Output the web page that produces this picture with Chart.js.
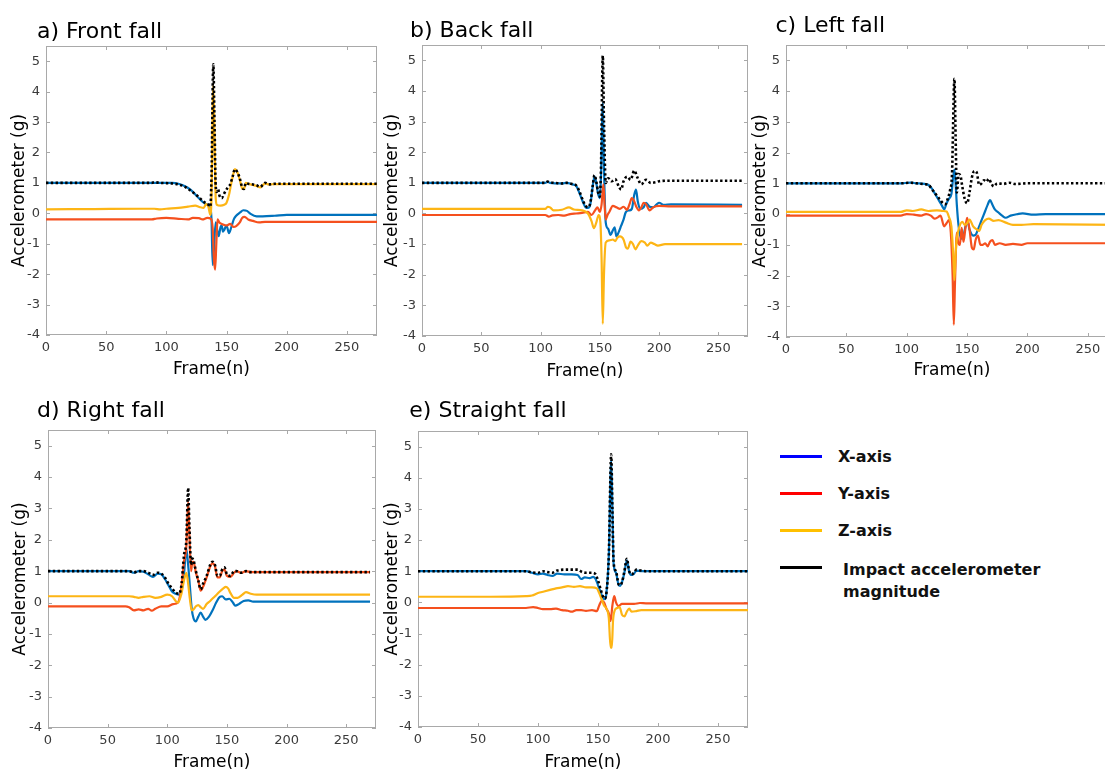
<!DOCTYPE html>
<html><head><meta charset="utf-8">
<script src="https://cdn.jsdelivr.net/npm/chart.js@4.4.1/dist/chart.umd.min.js"></script>
<style>
html,body{margin:0;padding:0;background:#fff;width:1105px;height:774px;overflow:hidden;position:relative;}
canvas{position:absolute;}
.ll{position:absolute;left:780px;width:42px;height:3px;}
.lt{position:absolute;font-family:"DejaVu Sans",sans-serif;font-weight:bold;font-size:16px;line-height:22px;color:#111;white-space:nowrap;}
</style></head><body>
<canvas id="ca" width="380" height="385" style="left:0px;top:0px"></canvas>
<canvas id="cb" width="375" height="385" style="left:375px;top:0px"></canvas>
<canvas id="cc" width="380" height="385" style="left:740px;top:0px"></canvas>
<canvas id="cd" width="380" height="389" style="left:0px;top:385px"></canvas>
<canvas id="ce" width="375" height="389" style="left:375px;top:385px"></canvas>

<div class="ll" style="top:455px;background:#0000FF"></div>
<div class="lt" style="left:838px;top:446px">X-axis</div>
<div class="ll" style="top:492px;background:#FF0000"></div>
<div class="lt" style="left:838px;top:483px">Y-axis</div>
<div class="ll" style="top:529px;background:#FFC000"></div>
<div class="lt" style="left:838px;top:520px">Z-axis</div>
<div class="ll" style="top:566px;background:#000000"></div>
<div class="lt" style="left:843px;top:559px">Impact accelerometer<br>magnitude</div>

<script>
// ---------- data: [frame, g] pairs ----------
const xTicks = [0, 50, 100, 150, 200, 250];
const yTicks = [-4, -3, -2, -1, 0, 1, 2, 3, 4, 5];

// a) Front fall
const frontMag = [[0,1.0],[60,1.0],[88,1.0],[90,1.02],[95,1.0],[105,0.98],[110,0.95],[115,0.88],[120,0.75],[125,0.6],[130,0.42],[133,0.33],[135,0.28],[136.5,0.22],[137.5,1.2],[139,4.9],[140,3.0],[141,0.9],[142,0.7],[143,0.8],[144,0.6],[146,0.5],[148,0.65],[151,0.85],[153,0.95],[155,1.2],[157,1.45],[159,1.35],[161,1.15],[163,0.85],[164.5,0.8],[166,1.0],[168,0.97],[172,0.95],[175,0.92],[178,0.87],[180,0.93],[182,1.0],[185,0.95],[190,0.97],[275,0.97]];
const frontZ = [[0,0.13],[40,0.14],[80,0.15],[90,0.15],[95,0.13],[100,0.15],[110,0.18],[118,0.22],[124,0.25],[128,0.2],[131,0.18],[133,0.3],[135,0.2],[136.5,-0.05],[137.5,0.5],[139,4.2],[140,2.5],[141,0.5],[142,0.28],[145,0.25],[148,0.28],[150,0.35],[152,0.6],[154,1.0],[156,1.35],[157,1.45],[159,1.35],[161,1.1],[163,0.82],[164.5,0.8],[166,1.0],[168,0.97],[172,0.93],[175,0.9],[178,0.85],[180,0.92],[182,0.98],[185,0.95],[190,0.96],[275,0.96]];
const frontY = [[0,-0.2],[60,-0.2],[88,-0.2],[92,-0.17],[100,-0.15],[110,-0.18],[118,-0.2],[122,-0.15],[127,-0.16],[130,-0.2],[134,-0.15],[137,-0.18],[138.5,-0.5],[139.5,-1.5],[140.5,-1.85],[141.5,-1.0],[142.5,-0.2],[144,-0.3],[146,-0.35],[150,-0.4],[153,-0.35],[156,-0.45],[158,-0.42],[161,-0.3],[163,-0.15],[165,-0.12],[168,-0.2],[172,-0.25],[177,-0.3],[182,-0.28],[275,-0.28]];
const frontX = [[0,1.0],[105,1.0],[110,0.97],[115,0.9],[120,0.78],[125,0.58],[130,0.38],[133,0.3],[136,0.25],[137.5,-0.2],[138.5,-1.7],[139.5,-1.2],[141,-0.3],[142.5,-0.6],[143.5,-0.75],[145,-0.45],[146,-0.4],[147,-0.6],[148,-0.55],[150,-0.4],[152,-0.65],[154,-0.45],[156,-0.2],[158,-0.08],[161,0.02],[164,0.1],[167,0.08],[170,-0.02],[175,-0.1],[180,-0.1],[190,-0.08],[200,-0.05],[275,-0.05]];

// b) Back fall
const backMag = [[0,1.0],[104,1.0],[106,1.04],[108,1.02],[112,1.0],[118,0.98],[122,1.0],[127,0.96],[130,0.92],[133,0.7],[136,0.4],[138,0.25],[140,0.2],[142,0.35],[144,0.9],[145.5,1.25],[147,1.05],[148.5,0.7],[150,0.55],[151,1.5],[152.5,5.15],[153.5,3.0],[155,1.0],[157,1.15],[160,1.05],[163,1.12],[166,0.88],[168,0.78],[170,1.05],[173,1.2],[176,1.1],[179,1.4],[182,1.15],[185,0.95],[189,1.1],[193,1.0],[197,1.02],[200,1.05],[210,1.07],[270,1.07]];
const backZ = [[0,0.15],[104,0.15],[106,0.22],[108,0.2],[111,0.1],[118,0.12],[124,0.2],[128,0.13],[135,0.1],[140,0.0],[143,-0.25],[145,-0.48],[147,-0.3],[149,-0.05],[150.5,-0.3],[151.5,-1.5],[152.5,-3.6],[153.5,-2.0],[155,-0.95],[158,-0.88],[161,-0.85],[163,-0.9],[165,-0.78],[167,-0.75],[170,-0.85],[172,-1.1],[173.5,-1.15],[176,-0.92],[178,-1.0],[180,-1.17],[182,-1.05],[185,-0.9],[188,-0.95],[190,-1.05],[193,-0.95],[196,-1.0],[199,-1.05],[205,-1.0],[270,-1.0]];
const backY = [[0,-0.05],[104,-0.05],[107,-0.1],[110,-0.06],[115,-0.05],[120,-0.07],[125,-0.02],[130,0.0],[135,0.02],[140,0.05],[143,-0.05],[146,0.1],[148,0.2],[150,0.05],[151.5,0.3],[153,0.95],[154,0.3],[155,-0.2],[156.5,-0.05],[158,0.05],[161,0.25],[164,0.2],[167,0.15],[170,0.22],[173,0.12],[175,0.3],[177,0.5],[179,0.4],[181,0.2],[183,0.1],[185,0.2],[187,0.35],[189,0.3],[192,0.1],[195,0.2],[200,0.25],[210,0.23],[270,0.23]];
const backX = [[0,1.0],[104,1.0],[106,1.03],[108,1.0],[118,0.98],[122,1.0],[127,0.95],[130,0.9],[133,0.65],[136,0.35],[138,0.2],[140,0.18],[142,0.3],[144,0.88],[145.5,1.2],[147,1.0],[148.5,0.65],[150,0.5],[151,1.2],[152.5,3.6],[153.5,1.5],[155,-0.3],[157,-0.5],[159,-0.7],[161,-0.55],[162.5,-0.45],[164,-0.75],[166,-0.6],[168,-0.4],[170,-0.2],[172,0.05],[175,0.1],[177,0.15],[179,0.6],[180.5,0.78],[182,0.4],[184,0.15],[187,0.2],[189,0.35],[192,0.22],[195,0.2],[198,0.3],[200,0.35],[204,0.28],[210,0.3],[270,0.28]];

// c) Left fall
const leftMag = [[0,1.0],[95,1.0],[103,1.02],[108,1.0],[115,0.97],[118,0.95],[121,0.8],[124,0.65],[127,0.5],[130,0.35],[132,0.32],[134,0.5],[136,0.8],[137.5,1.3],[139.5,4.4],[140.5,2.5],[141.5,0.7],[143,1.3],[144.5,1.25],[146,0.9],[148,0.5],[150,0.35],[152,0.7],[154,1.2],[156,1.4],[158,1.35],[160,0.95],[162,1.0],[164,1.1],[166,1.05],[168,1.15],[170,1.0],[172,0.9],[175,1.0],[180,0.98],[185,1.02],[190,0.98],[200,1.0],[275,1.0]];
const leftZ = [[0,0.07],[95,0.07],[100,0.12],[105,0.1],[112,0.15],[118,0.1],[125,0.12],[130,0.1],[133,0.08],[135,-0.1],[137,-0.4],[138.5,-1.3],[139.5,-2.15],[140.5,-1.3],[141.5,-0.8],[143,-0.5],[146,-0.25],[148,-0.35],[150,-0.3],[152,-0.18],[155,-0.4],[158,-0.5],[160,-0.55],[162,-0.35],[165,-0.2],[168,-0.15],[172,-0.22],[176,-0.2],[182,-0.28],[188,-0.35],[195,-0.35],[205,-0.33],[275,-0.35]];
const leftY = [[0,-0.05],[95,-0.05],[100,0.0],[106,-0.02],[112,-0.05],[116,0.0],[120,-0.05],[123,-0.15],[126,-0.1],[128,-0.05],[131,-0.4],[133,-0.3],[135,-0.2],[136.5,-0.6],[138,-2.0],[139,-3.6],[140,-2.2],[141.5,-0.6],[142.5,-0.9],[144,-1.0],[145.5,-0.45],[147,-0.9],[148.5,-0.5],[150,-0.12],[152,-0.5],[154,-1.1],[155.5,-1.15],[157,-0.85],[159,-0.7],[161,-1.0],[163,-1.0],[165,-0.95],[167,-1.05],[169,-0.9],[171,-0.85],[173,-1.0],[177,-0.95],[182,-1.0],[188,-0.97],[195,-1.0],[200,-0.95],[275,-0.95]];
const leftX = [[0,1.0],[95,1.0],[103,1.02],[108,1.0],[118,0.95],[121,0.82],[124,0.62],[127,0.42],[129.5,0.25],[131,0.15],[133,0.35],[135,0.5],[137,0.65],[138.5,1.2],[139.5,1.45],[140.5,1.0],[141.5,0.3],[143,-0.4],[145,-0.8],[147,-0.7],[149,-0.35],[150.5,-0.25],[152,-0.5],[155,-0.7],[157,-0.68],[159,-0.5],[162,-0.2],[165,0.1],[167,0.3],[169,0.45],[171,0.3],[173,0.15],[176,0.05],[179,-0.05],[182,-0.12],[186,-0.05],[192,0.0],[196,0.02],[205,-0.02],[215,0.0],[275,0.0]];

// d) Right fall
const rightMag = [[0,1.0],[68,1.0],[72,0.96],[76,1.0],[80,1.0],[84,0.95],[88,0.88],[92,0.95],[95,0.92],[98,0.8],[101,0.6],[104,0.45],[107,0.32],[110,0.28],[112,0.6],[114,1.5],[116,2.0],[117.5,3.65],[118.5,2.5],[120,1.2],[121,1.4],[122,1.35],[124,1.0],[126,0.7],[128,0.42],[130,0.6],[133,0.85],[136,1.2],[138,1.3],[140,1.2],[142,0.85],[144,0.85],[146,1.05],[148,1.12],[150,0.9],[153,0.85],[156,1.0],[158,1.0],[162,0.95],[166,1.0],[170,0.97],[270,0.97]];
const rightZ = [[0,0.2],[68,0.2],[72,0.18],[76,0.15],[80,0.18],[85,0.2],[90,0.15],[95,0.18],[100,0.25],[104,0.2],[107,0.05],[109,0.0],[112,0.3],[114,0.7],[116,0.95],[117.5,0.6],[119,0.1],[120.5,-0.25],[122,-0.22],[124,-0.12],[126,-0.08],[128,-0.15],[130,-0.2],[133,-0.05],[136,0.05],[140,0.2],[144,0.35],[147,0.45],[149,0.5],[151,0.45],[153,0.3],[156,0.15],[159,0.15],[163,0.25],[166,0.33],[170,0.28],[175,0.25],[270,0.25]];
const rightY = [[0,-0.12],[65,-0.12],[68,-0.15],[72,-0.25],[76,-0.22],[80,-0.25],[84,-0.2],[87,-0.26],[90,-0.2],[95,-0.12],[100,-0.12],[105,-0.05],[109,0.0],[112,0.55],[114,1.3],[116,1.8],[117.5,3.2],[118.5,2.2],[120,1.0],[121,1.3],[122,1.3],[124,0.95],[126,0.7],[128,0.38],[130,0.5],[133,0.8],[136,1.15],[138,1.25],[140,1.15],[142,0.8],[144,0.8],[146,1.0],[148,1.05],[150,0.85],[153,0.82],[156,0.95],[158,1.0],[162,0.95],[166,1.0],[170,0.97],[270,0.97]];
const rightX = [[0,1.0],[68,1.0],[72,0.95],[76,1.0],[80,0.98],[84,0.9],[88,0.82],[92,0.92],[95,0.9],[98,0.75],[101,0.55],[104,0.35],[107,0.28],[110,0.25],[112,0.4],[114,0.9],[116,1.7],[117.5,1.2],[119,0.5],[120.5,-0.2],[122,-0.5],[124,-0.6],[126,-0.45],[128,-0.32],[130,-0.45],[132,-0.55],[135,-0.45],[138,-0.25],[141,0.0],[144,0.18],[146,0.2],[149,0.1],[152,0.12],[155,0.0],[157,-0.1],[160,-0.05],[164,0.05],[168,0.07],[172,0.03],[270,0.03]];

// e) Straight fall
const straightMag = [[0,1.0],[90,1.0],[95,0.96],[100,0.95],[104,1.0],[108,0.97],[112,0.95],[116,1.02],[122,1.05],[128,1.05],[133,1.05],[137,0.97],[140,0.95],[145,0.95],[148,0.9],[150,0.7],[152,0.45],[154,0.2],[155.5,0.12],[157,0.3],[159,1.5],[161,4.75],[162,3.0],[163,1.3],[165,1.0],[167,0.6],[168.5,0.55],[170,0.65],[172,1.0],[174,1.4],[176,1.0],[178,0.9],[180,0.95],[182,1.05],[186,1.02],[190,1.0],[275,1.0]];
const straightZ = [[0,0.18],[60,0.18],[90,0.2],[95,0.22],[100,0.3],[105,0.35],[110,0.4],[115,0.45],[120,0.48],[125,0.52],[130,0.5],[135,0.52],[140,0.48],[145,0.48],[149,0.45],[151,0.3],[153,0.1],[155,-0.1],[157,-0.2],[159,-0.5],[160.5,-1.45],[161.5,-1.45],[162.5,-0.6],[164,-0.25],[166,-0.18],[168,-0.15],[170,-0.4],[172,-0.45],[174,-0.3],[176,-0.2],[178,-0.3],[182,-0.28],[186,-0.25],[275,-0.25]];
const straightY = [[0,-0.18],[90,-0.18],[96,-0.15],[100,-0.18],[104,-0.22],[110,-0.22],[115,-0.2],[120,-0.25],[125,-0.27],[128,-0.3],[132,-0.25],[136,-0.25],[140,-0.27],[145,-0.25],[149,-0.28],[151,-0.1],[153,0.05],[155,0.0],[157,-0.2],[159,-0.35],[160.5,-0.6],[162,-0.1],[163.5,0.2],[165,0.0],[167,-0.12],[170,-0.05],[175,-0.05],[180,-0.05],[185,-0.02],[190,-0.03],[275,-0.03]];
const straightX = [[0,1.0],[90,1.0],[95,0.95],[100,0.9],[104,0.92],[108,0.88],[112,0.85],[116,0.92],[122,0.9],[128,0.9],[133,0.88],[136,0.75],[139,0.8],[143,0.78],[146,0.82],[148,0.75],[150,0.55],[152,0.35],[154,0.15],[155.5,0.1],[157,0.3],[159,1.5],[161,4.55],[162,3.0],[163,1.25],[165,0.95],[167,0.58],[168.5,0.53],[170,0.65],[172,0.95],[174,1.35],[176,0.98],[178,0.88],[180,0.92],[182,1.02],[186,1.0],[275,1.0]];

// ---------- layout & style ----------
const FONT = '"DejaVu Sans", sans-serif';
const COL = {x:'#0072BD', y:'#F5501E', z:'#FDB515', mag:'#000000'};

const panels = [
  {id:'ca', title:'a) Front fall',    left:0,   top:0,   w:380, h:385, area:{l:46, t:46, r:377, b:335}, tpos:[37,37.5], yTitleX:20,    xTitleY:370, mag:frontMag,    X:frontX,    Y:frontY,    Z:frontZ},
  {id:'cb', title:'b) Back fall',     left:375, top:0,   w:375, h:385, area:{l:422,t:45, r:748, b:336}, tpos:[35,36.7], yTitleX:392.5, xTitleY:372, mag:backMag,     X:backX,     Y:backY,     Z:backZ},
  {id:'cc', title:'c) Left fall',     left:740, top:0,   w:380, h:385, area:{l:786,t:45, r:1118,b:337}, tpos:[35.5,32.3], yTitleX:760.5, xTitleY:371, mag:leftMag,  X:leftX,     Y:leftY,     Z:leftZ},
  {id:'cd', title:'d) Right fall',    left:0,   top:385, w:380, h:389, area:{l:48, t:430,r:376, b:728}, tpos:[37,31.7], yTitleX:20.5,  xTitleY:763, mag:rightMag,    X:rightX,    Y:rightY,    Z:rightZ},
  {id:'ce', title:'e) Straight fall', left:375, top:385, w:375, h:389, area:{l:418,t:431,r:748, b:727}, tpos:[34.3,32.3], yTitleX:392.5, xTitleY:763, mag:straightMag, X:straightX, Y:straightY, Z:straightZ}
];

const framePlugin = {
  id: 'matlabFrame',
  beforeDatasetsDraw(chart) {
    const {ctx, chartArea: {left, right, top, bottom}, scales: {x, y}} = chart;
    ctx.save();
    ctx.strokeStyle = '#a9a9a9';
    ctx.lineWidth = 1;
    ctx.strokeRect(Math.round(left) + 0.5, Math.round(top) + 0.5, Math.round(right - left) - 1, Math.round(bottom - top) - 1);
    ctx.beginPath();
    x.ticks.forEach(t => {
      const px = Math.round(x.getPixelForValue(t.value)) + 0.5;
      ctx.moveTo(px, bottom); ctx.lineTo(px, bottom - 4);
      ctx.moveTo(px, top); ctx.lineTo(px, top + 4);
    });
    y.ticks.forEach(t => {
      const py = Math.round(y.getPixelForValue(t.value)) + 0.5;
      ctx.moveTo(left, py); ctx.lineTo(left + 4, py);
      ctx.moveTo(right, py); ctx.lineTo(right - 4, py);
    });
    ctx.stroke();
    ctx.restore();
  }
};

const titlePlugin = {
  id: 'panelTitle',
  afterDraw(chart, args, opts) {
    const ctx = chart.ctx;
    ctx.save();
    ctx.font = '22px ' + FONT;
    ctx.fillStyle = '#000';
    ctx.textBaseline = 'alphabetic';
    ctx.textAlign = 'left';
    ctx.fillText(opts.text, opts.x, opts.y);
    ctx.restore();
  }
};

function lineDs(label, data, color, order, dotted) {
  return {
    label, data, order,
    borderColor: color,
    backgroundColor: color,
    borderWidth: dotted ? 2.6 : 2.2,
    borderDash: dotted ? [2.4, 2.4] : [],
    borderCapStyle: 'butt',
    pointRadius: 0,
    cubicInterpolationMode: 'monotone',
    fill: false
  };
}

panels.forEach(p => {
  const yW = p.area.l - p.left;
  const xH = p.top + p.h - p.area.b;
  const yTitleLH = 17 * 1.2, xTitleLH = 17 * 1.2;
  new Chart(document.getElementById(p.id), {
    type: 'line',
    data: {
      datasets: [
        lineDs('Impact accelerometer magnitude', p.mag, COL.mag, 0, true),
        lineDs('Z-axis', p.Z, COL.z, 1, false),
        lineDs('Y-axis', p.Y, COL.y, 2, false),
        lineDs('X-axis', p.X, COL.x, 3, false)
      ]
    },
    options: {
      responsive: false,
      animation: false,
      devicePixelRatio: 1,
      layout: {padding: {left: 0, top: p.area.t - p.top, right: p.left + p.w - p.area.r, bottom: 0}},
      plugins: {
        legend: {display: false},
        tooltip: {enabled: false},
        panelTitle: {text: p.title, x: p.tpos[0], y: p.tpos[1]}
      },
      scales: {
        x: {
          type: 'linear', min: 0, max: 275,
          afterBuildTicks: s => { s.ticks = xTicks.map(v => ({value: v})); },
          ticks: {color: '#3a3a3a', font: {family: FONT, size: 13}, padding: 5, maxRotation: 0, autoSkip: false},
          grid: {display: false, drawTicks: false},
          border: {display: false},
          title: {display: true, text: 'Frame(n)', color: '#000', font: {family: FONT, size: 17},
                  padding: {top: 0, bottom: Math.max(0, p.top + p.h - p.xTitleY - xTitleLH / 2)}},
          afterFit: s => { s.height = xH; }
        },
        y: {
          type: 'linear', min: -4, max: 5.5,
          afterBuildTicks: s => { s.ticks = yTicks.map(v => ({value: v})); },
          ticks: {color: '#3a3a3a', font: {family: FONT, size: 13}, padding: 6},
          grid: {display: false, drawTicks: false},
          border: {display: false},
          title: {display: true, text: 'Accelerometer (g)', color: '#000', font: {family: FONT, size: 17},
                  padding: {top: Math.max(0, p.yTitleX - p.left - yTitleLH / 2), bottom: 0}},
          afterFit: s => { s.width = yW; }
        }
      }
    },
    plugins: [framePlugin, titlePlugin]
  });
});
</script>
</body></html>
